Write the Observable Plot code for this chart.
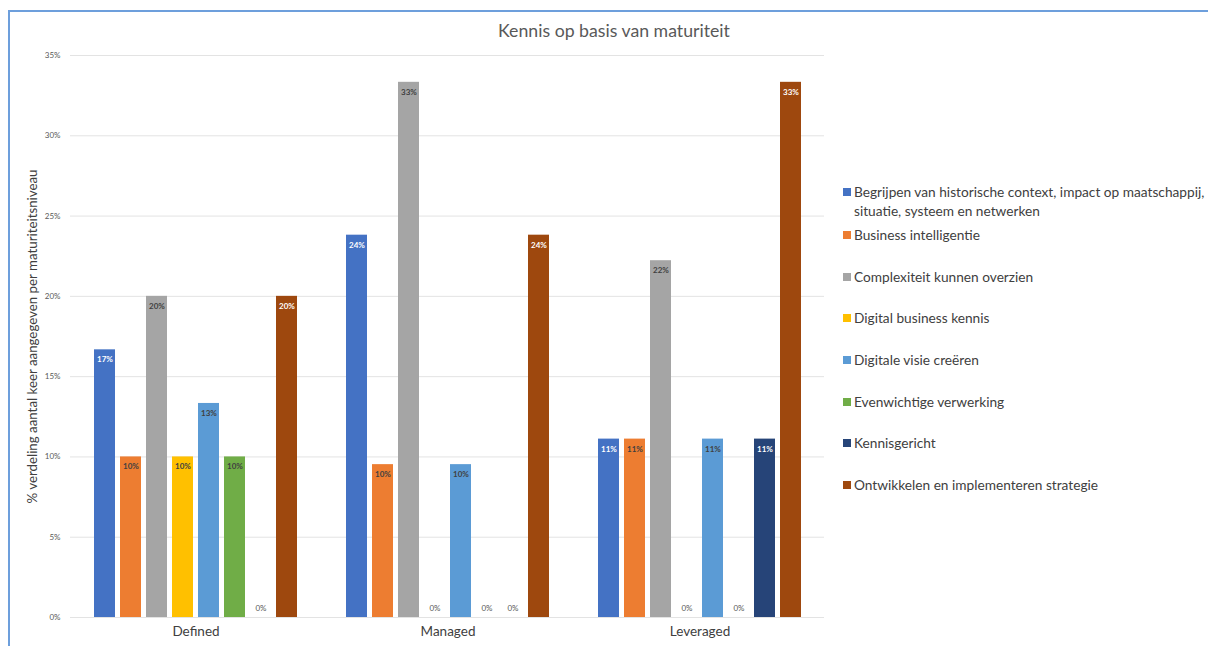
<!DOCTYPE html>
<html>
<head>
<meta charset="utf-8">
<script src="https://cdn.jsdelivr.net/npm/d3@7"></script>
<script src="https://cdn.jsdelivr.net/npm/@observablehq/plot@0.6"></script>
<style>
  html, body { margin: 0; padding: 0; background: #fff; }
  body { width: 1208px; height: 646px; overflow: hidden; font-family: Lato, "Open Sans", sans-serif; }
  #page { position: relative; width: 1208px; height: 646px; }
  #frame { position: absolute; left: 8px; top: 10px; right: -4px; bottom: -4px;
           border-left: 2px solid #6d9fdc; border-top: 2px solid #6d9fdc; }
  #grid, #chart { position: absolute; left: 0; top: 0; }
  #title { position: absolute; top: 20px; left: 0; width: 1228px; text-align: center;
           font-size: 17.7px; color: #595959; }
  #legend { position: absolute; left: 843px; top: 182px; font-size: 13.7px; color: #404040; }
  .item { position: absolute; left: 0; white-space: nowrap; line-height: 19px; }
  .swatch { position: absolute; left: 0; top: 6px; width: 8px; height: 8px; }
  .label { margin-left: 11px; }
</style>
</head>
<body>
<div id="page">
  <div id="frame"></div>
  <div id="grid"></div>
  <div id="chart"></div>
  <div id="title"></div>
  <div id="legend"></div>
</div>
<script>
// Maturity levels (one group of bars each)
const groups = ["Defined", "Managed", "Leveraged"];

// Knowledge areas (one bar per area in every group)
const series = [
  "Begrijpen van historische context, impact op maatschappij,\nsituatie, systeem en netwerken",
  "Business intelligentie",
  "Complexiteit kunnen overzien",
  "Digital business kennis",
  "Digitale visie creëren",
  "Evenwichtige verwerking",
  "Kennisgericht",
  "Ontwikkelen en implementeren strategie"
];

const seriesColors = ["#4472c4", "#ed7d31", "#a5a5a5", "#ffc000", "#5b9bd5", "#70ad47", "#264478", "#9e480e"];

// Share of mentions per maturity level, in series order
const definedValues   = [0.1667, 0.1000, 0.2000, 0.1000, 0.1333, 0.1000, 0.0000, 0.2000];
const managedValues   = [0.2381, 0.0952, 0.3333, 0.0000, 0.0952, 0.0000, 0.0000, 0.2381];
const leveragedValues = [0.1111, 0.1111, 0.2222, 0.0000, 0.1111, 0.0000, 0.1111, 0.3333];

const yTicks = [0, 0.05, 0.10, 0.15, 0.20, 0.25, 0.30, 0.35];

const title = "Kennis op basis van maturiteit";
const yTitle = "% verdeling aantal keer aangegeven per maturiteitsniveau";

// Series whose in-bar labels are drawn in white
const lightLabelSeries = new Set([series[0], series[6], series[7]]);

const valuesByGroup = [definedValues, managedValues, leveragedValues];
const rows = groups.flatMap((g, i) =>
  series.map((s, j) => ({group: g, series: s, value: valuesByGroup[i][j]}))
);
const pct = d3.format(".0%");

// Shared frame settings so the gridline layer lines up with the bars
const frame = {
  width: 830,
  height: 646,
  marginLeft: 70,
  marginRight: 6,
  marginTop: 55,
  marginBottom: 29,
  style: {fontFamily: "Lato, 'Open Sans', sans-serif", background: "transparent"}
};

// Gridlines spanning the full plot width, drawn underneath the bars
const grid = Plot.plot({
  ...frame,
  y: {domain: [0, 0.35], axis: null},
  marks: [Plot.ruleY(yTicks, {stroke: "#e3e3e3", strokeWidth: 1})]
});
document.getElementById("grid").appendChild(grid);

const chart = Plot.plot({
  ...frame,
  fx: {domain: groups, paddingInner: 0.14, paddingOuter: 0.066, label: null},
  x: {domain: series, padding: 0.2, axis: null},
  y: {domain: [0, 0.35], label: null},
  color: {domain: series, range: seriesColors},
  marks: [
    // the y axis sits on the first group's frame, so its padding reaches back past the outer gap
    Plot.axisY({ticks: yTicks, tickFormat: ".0%", tickSize: 0, tickPadding: 27,
                fontSize: 8, fill: "#595959", label: null}),
    Plot.axisY({ticks: [], tickSize: 0, label: yTitle, labelAnchor: "center",
                labelArrow: "none", labelOffset: 60, fontSize: 13.3, fill: "#404040"}),
    Plot.axisFx({anchor: "bottom", tickSize: 0, tickPadding: 9, fontSize: 13.5,
                 fill: "#404040", label: null}),
    Plot.barY(rows, {fx: "group", x: "series", y: "value", fill: "series"}),
    // value labels just inside the top of each non-empty bar
    Plot.text(rows.filter(d => d.value > 0), {
      fx: "group", x: "series", y: "value", text: d => pct(d.value),
      dy: 10, fontSize: 8, fontWeight: "bold",
      fill: d => lightLabelSeries.has(d.series) ? "#ffffff" : "#404040"
    }),
    // labels for empty bars, just above the baseline
    Plot.text(rows.filter(d => d.value === 0), {
      fx: "group", x: "series", y: "value", text: d => pct(d.value),
      dy: -9, fontSize: 8, fill: "#595959"
    })
  ]
});
document.getElementById("chart").appendChild(chart);

document.getElementById("title").textContent = title;

// Legend: one entry per series, first entry wraps onto two lines
const legend = document.getElementById("legend");
const entryTops = [0, 43, 84.5, 126, 168, 209.5, 251, 293];
series.forEach((s, i) => {
  const item = document.createElement("div");
  item.className = "item";
  item.style.top = entryTops[i] + "px";
  const sw = document.createElement("div");
  sw.className = "swatch";
  sw.style.background = seriesColors[i];
  const lab = document.createElement("div");
  lab.className = "label";
  lab.innerHTML = s.split("\n").map(t => t.replace(/&/g, "&amp;")).join("<br>");
  item.appendChild(sw);
  item.appendChild(lab);
  legend.appendChild(item);
});
</script>
</body>
</html>
